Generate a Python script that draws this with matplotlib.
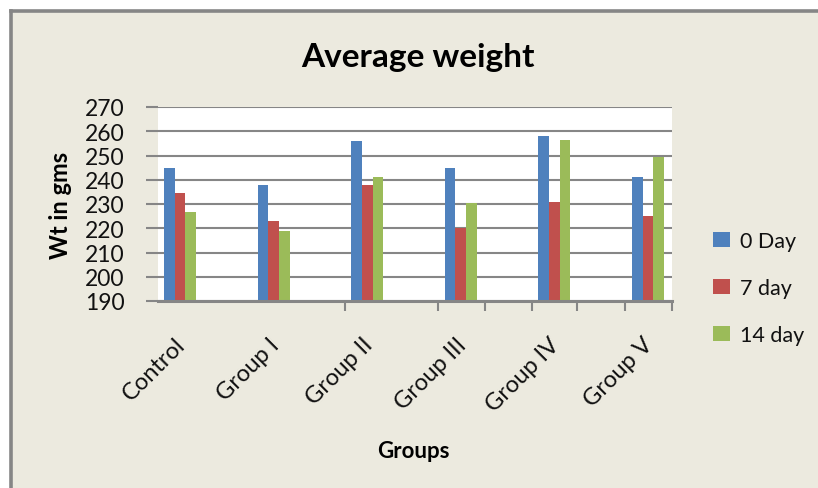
import numpy as np
import matplotlib.pyplot as plt
from matplotlib.patches import Rectangle
from matplotlib.lines import Line2D
import matplotlib.transforms as mtransforms

plt.rcParams['font.family'] = ['Lato', 'DejaVu Sans']

groups = ["Control", "Group I", "Group II", "Group III", "Group IV", "Group V"]
series_names = ["0 Day", "7 day", "14 day"]
day0 = [245, 238, 256, 245, 258, 241]
day7 = [234.5, 223, 238, 220.3, 231, 225]
day14 = [226.5, 218.7, 241, 230.5, 256.3, 249.3]
yticks = [190, 200, 210, 220, 230, 240, 250, 260, 270]

colors = ["#4F81BD", "#C0504D", "#9BBB59"]
bg = "#ECEADF"
grid_c = "#868686"
txt_c = "#111111"

W, H = 818, 489
fig = plt.figure(figsize=(W / 100, H / 100), dpi=100)
fig.patch.set_facecolor("white")

# beige chart area with grey border on top/left
fig.patches.append(Rectangle((10 / W, 0), 1 - 10 / W, 1 - 12 / H,
                             transform=fig.transFigure, facecolor=bg,
                             edgecolor="none", zorder=-5))
fig.lines.append(Line2D([10.5 / W, 10.5 / W], [0, 1 - 11.5 / H],
                        transform=fig.transFigure, color=grid_c, lw=2.6, zorder=-4))
fig.lines.append(Line2D([10.5 / W, 1], [1 - 11.5 / H, 1 - 11.5 / H],
                        transform=fig.transFigure, color=grid_c, lw=2.6, zorder=-4))

left, right, top, bottom = 158, 672, 108, 302
ax = fig.add_axes([left / W, 1 - bottom / H, (right - left) / W, (bottom - top) / H])
ax.set_zorder(2)
ax.set_facecolor("white")

x = np.arange(len(groups))
bw = 0.114
for k, vals in enumerate([day0, day7, day14]):
    ax.bar(x + (k - 1) * bw, np.array(vals) - 190, bottom=190, width=bw,
           color=colors[k], label=series_names[k], zorder=3)

ax.set_ylim(190, 270)
ax.set_xlim(-0.235, 5.256)
ax.set_yticks(yticks)
ax.set_yticklabels([str(v) for v in yticks], fontsize=16.5, color=txt_c)
ax.yaxis.grid(True, color=grid_c, lw=1.5, zorder=1)
ax.set_axisbelow(True)
ax.tick_params(axis="y", length=9, width=1.5, color=grid_c, pad=15)
for s in ["left", "right", "top"]:
    ax.spines[s].set_visible(False)
ax.spines["bottom"].set_color(grid_c)
ax.spines["bottom"].set_linewidth(2.2)
ax.spines["bottom"].set_zorder(4)

ax.set_xticks([1.763, 2.756, 3.259, 3.761, 4.241, 4.754, 5.256])
ax.set_xticklabels([])
ax.tick_params(axis="x", length=7, width=1.5, color=grid_c)

# rotated category labels
trans = mtransforms.blended_transform_factory(ax.transData, fig.transFigure)
for xi, name in zip(x, groups):
    ax.text(xi + 0.02, 1 - 342 / H, name, transform=trans, rotation=45,
            rotation_mode="anchor", ha="right", va="center",
            fontsize=17, color=txt_c, clip_on=False)

fig.text(418 / W, 1 - 57 / H, "Average weight", ha="center", va="center",
         fontsize=24, fontweight="bold", color="black")
fig.text(60 / W, 1 - 205 / H, "Wt in gms", ha="center", va="center",
         rotation=90, fontsize=17, fontweight="bold", color="black")
fig.text(413 / W, 1 - 452 / H, "Groups", ha="center", va="center",
         fontsize=16, fontweight="bold", color="black")

handles, labels = ax.get_legend_handles_labels()
leg = fig.legend(handles, labels, loc="center left",
                 bbox_to_anchor=(694 / W, 1 - 289 / H), frameon=False,
                 fontsize=15.5, handlelength=0.75, handleheight=0.75,
                 handletextpad=0.5, labelspacing=1.25)
for t in leg.get_texts():
    t.set_color(txt_c)

fig.savefig("out.png", dpi=100, facecolor=fig.get_facecolor())
